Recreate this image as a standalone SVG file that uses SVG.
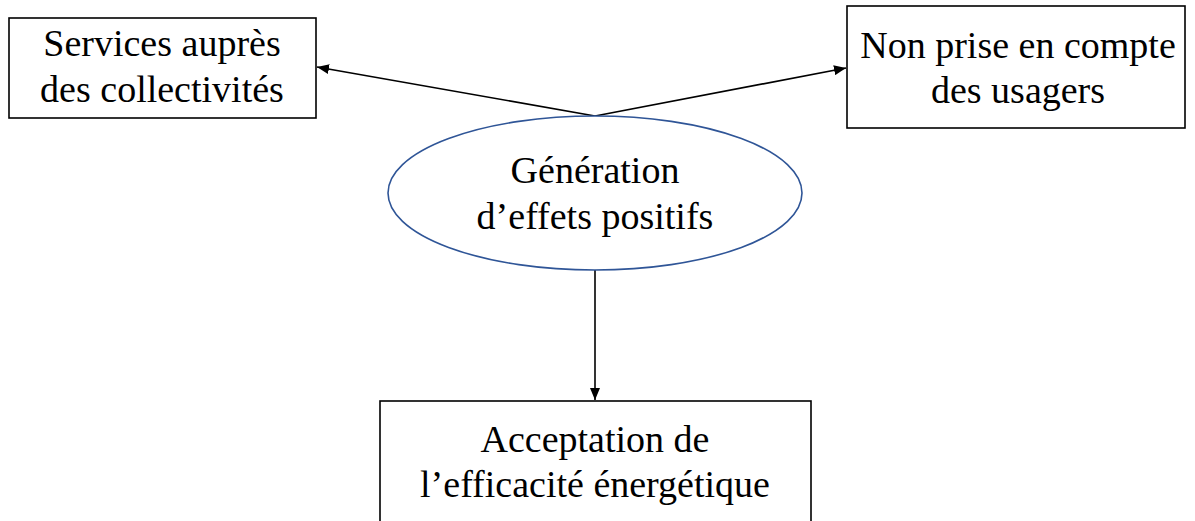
<svg xmlns="http://www.w3.org/2000/svg" width="1195" height="521" viewBox="0 0 1195 521">
<style>
.box{fill:#fff;stroke:#000;stroke-width:1.6}
.ell{fill:#fff;stroke:#2F5597;stroke-width:1.6}
.lbl{font-family:"Liberation Serif","Times New Roman",serif;font-size:38px;fill:#000;text-anchor:middle}
.conn{stroke:#000;stroke-width:1.6;fill:none;marker-end:url(#arr)}
</style>
<defs>
<marker id="arr" viewBox="0 0 12 10" refX="12" refY="5" markerWidth="12" markerHeight="10" markerUnits="userSpaceOnUse" orient="auto">
<path d="M0,0 L12,5 L0,10 z" fill="#000"/>
</marker>
</defs>
<rect width="1195" height="521" fill="#fff"/>
<g id="connectors">
<line class="conn" x1="595" y1="116" x2="317" y2="67"/>
<line class="conn" x1="595" y1="116" x2="846" y2="68"/>
<line class="conn" x1="595" y1="270" x2="595" y2="400"/>
</g>
<g id="node-services">
<rect class="box" x="9" y="18" width="307" height="100"/>
<text class="lbl" x="162" y="56">Services auprès</text>
<text class="lbl" x="162" y="102">des collectivités</text>
</g>
<g id="node-nonprise">
<rect class="box" x="847" y="6" width="338" height="122"/>
<text class="lbl" x="1018" y="58">Non prise en compte</text>
<text class="lbl" x="1018" y="103">des usagers</text>
</g>
<g id="node-generation">
<ellipse class="ell" cx="595" cy="193" rx="207" ry="77"/>
<text class="lbl" x="595" y="183">Génération</text>
<text class="lbl" x="595" y="229">d’effets positifs</text>
</g>
<g id="node-acceptation">
<rect class="box" x="380" y="401" width="431" height="130"/>
<text class="lbl" x="595" y="452">Acceptation de</text>
<text class="lbl" x="595" y="497">l’efficacité énergétique</text>
</g>
</svg>
